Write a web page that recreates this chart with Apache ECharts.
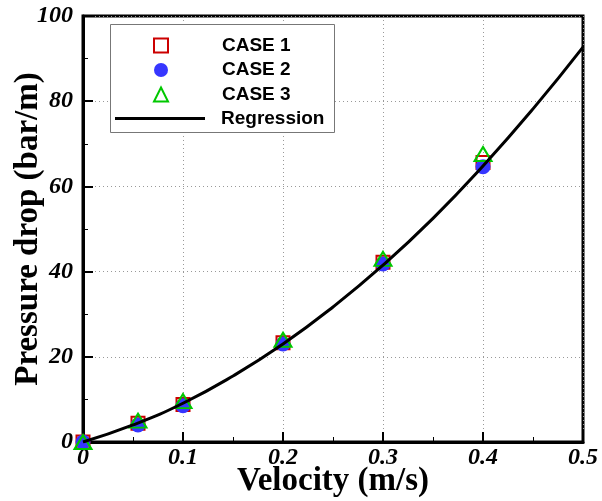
<!DOCTYPE html>
<html>
<head>
<meta charset="utf-8">
<script src="https://cdn.jsdelivr.net/npm/echarts@6/dist/echarts.min.js"></script>
<style>
  html, body { margin: 0; padding: 0; background: #fff; }
  #chart { width: 602px; height: 501px; }
</style>
</head>
<body>
<div id="chart"></div>
<script>
// measured points (velocity m/s, pressure drop bar/m)
const velocity = [0, 0.055, 0.1, 0.2, 0.3, 0.4];
const case1 = [0, 4.4, 8.8, 23.3, 42.2, 65.6];
const case2 = [0, 4.0, 8.5, 23.0, 41.8, 64.6];
const case3 = [0, 5.0, 9.6, 24.0, 43.0, 67.6];

// regression curve
const regX = [0, 0.05, 0.1, 0.15, 0.2, 0.25, 0.3, 0.35, 0.4, 0.45, 0.5];
const regY = [0, 4.0, 9.1, 15.5, 23.0, 31.7, 41.5, 52.5, 64.8, 78.2, 92.7];

const pairs = (xs, ys) => xs.map((x, i) => [x, ys[i]]);

const chart = echarts.init(document.getElementById("chart"));

const labelFont = {
  fontFamily: "Liberation Serif",
  fontWeight: "bold",
  fontStyle: "italic",
  fontSize: 24,
  color: "#000",
};
const nameFont = {
  fontFamily: "Liberation Serif",
  fontWeight: "bold",
  fontSize: 33,
  color: "#000",
};
const legendText = {
  fontFamily: "Liberation Sans",
  fontWeight: "bold",
  fontSize: 19,
  color: "#000",
};

const option = {
  animation: false,
  grid: {
    left: 83,
    top: 16,
    right: 19,
    bottom: 59,
    outerBoundsMode: "none",
    show: true,
    borderColor: "#000",
    borderWidth: 3,
    backgroundColor: "transparent",
  },
  xAxis: {
    type: "value",
    min: 0,
    max: 0.5,
    interval: 0.1,
    name: "Velocity (m/s)",
    nameLocation: "middle",
    nameGap: 23,
    nameMoveOverlap: false,
    nameTextStyle: nameFont,
    axisLine: { lineStyle: { color: "#000", width: 3 } },
    axisTick: { inside: true, length: 10, lineStyle: { width: 2, color: "#000" } },
    minorTick: { show: true, splitNumber: 2, length: 5, lineStyle: { width: 1, color: "#000" } },
    axisLabel: Object.assign({ margin: 4 }, labelFont),
    splitLine: { show: true, lineStyle: { color: "#999", type: [1, 3], width: 1 } },
  },
  yAxis: {
    type: "value",
    min: 0,
    max: 100,
    interval: 20,
    name: "Pressure drop (bar/m)",
    nameLocation: "middle",
    nameGap: 38,
    nameMoveOverlap: false,
    nameTextStyle: nameFont,
    axisLine: { lineStyle: { color: "#000", width: 3 } },
    axisTick: { inside: true, length: 10, lineStyle: { width: 2, color: "#000" } },
    minorTick: { show: true, splitNumber: 2, length: 5, lineStyle: { width: 1, color: "#000" } },
    axisLabel: Object.assign({ margin: 10 }, labelFont),
    splitLine: { show: true, lineStyle: { color: "#999", type: [1, 3], width: 1 } },
  },
  legend: [
    {
      data: ["CASE 1", "CASE 2", "CASE 3"],
      orient: "vertical",
      left: 153,
      top: 36,
      itemWidth: 14,
      itemHeight: 14,
      itemGap: 5.5,
      padding: 0,
      textStyle: Object.assign({ padding: [0, 0, 0, 49] }, legendText),
    },
    {
      data: [{ name: "Regression", icon: "rect" }],
      left: 115,
      top: 109,
      itemWidth: 90,
      itemHeight: 3,
      padding: 0,
      textStyle: Object.assign({ padding: [0, 0, 0, 11] }, legendText),
    },
  ],
  graphic: [
    {
      type: "rect",
      left: 110,
      top: 24,
      shape: { width: 224, height: 108 },
      style: { fill: "#fff", stroke: "#777", lineWidth: 1 },
      z: 3,
    },
  ],
  series: [
    {
      name: "CASE 1",
      type: "scatter",
      symbol: "rect",
      symbolSize: 13,
      data: pairs(velocity, case1),
      itemStyle: { color: "#fff", borderColor: "#cc0000", borderWidth: 2, opacity: 1 },
      z: 2,
    },
    {
      name: "CASE 2",
      type: "scatter",
      symbol: "circle",
      symbolSize: 15,
      data: pairs(velocity, case2),
      itemStyle: { color: "#3636ff", opacity: 1 },
      z: 3,
    },
    {
      name: "CASE 3",
      type: "scatter",
      symbol: "triangle",
      symbolSize: [17, 14],
      data: pairs(velocity, case3),
      itemStyle: { color: "rgba(255,255,255,0)", borderColor: "#00c800", borderWidth: 2, opacity: 1 },
      z: 4,
    },
    {
      name: "Regression",
      type: "line",
      smooth: true,
      symbol: "none",
      data: pairs(regX, regY),
      lineStyle: { color: "#000", width: 3 },
      itemStyle: { color: "#000" },
      z: 5,
    },
  ],
};

chart.setOption(option);
</script>
</body>
</html>
